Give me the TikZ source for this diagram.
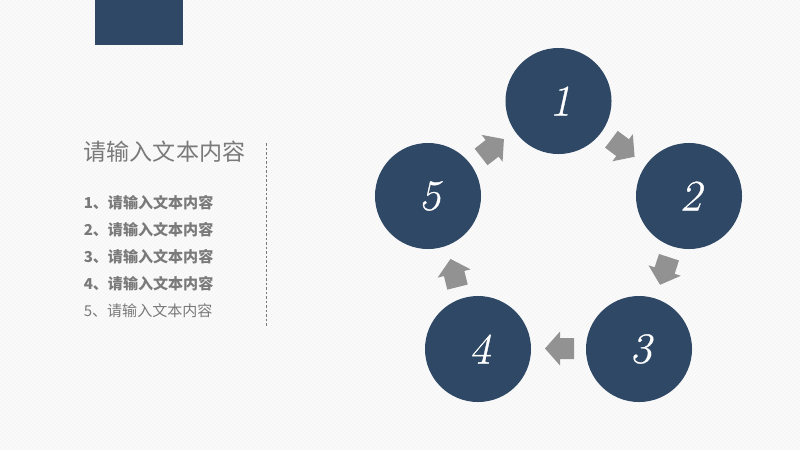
\documentclass[tikz,border=0pt]{standalone}
\usepackage{fontspec}
\setmainfont{Latin Modern Roman}
\newfontfamily\cjk{Noto Sans CJK SC}
\newfontfamily\numfont[FakeSlant=0.22,FakeBold=0.8]{Latin Modern Roman}
\definecolor{navy}{HTML}{2E4866}
\definecolor{pagebg}{HTML}{FAFAFA}
\definecolor{hatchgray}{HTML}{F4F4F4}
\definecolor{txtgray}{HTML}{7A7A7A}
\definecolor{arrowgray}{HTML}{929292}
\begin{document}
\begin{tikzpicture}[x=0.025cm,y=-0.025cm]
	\newcommand{\listx}{83.5}
	\newcommand{\circdiam}{2.65cm} % diameter of the circles

	% set the styles
	\tikzset{
		stage/.style={
			circle,
			fill=navy,
			text=white,
			inner sep=0pt,
			minimum size=\circdiam,
			font=\fontsize{31}{31}\selectfont\numfont
			},
		listitem/.style={
			anchor=west,
			inner sep=0pt,
			text=txtgray,
			font=\fontsize{10.7}{12}\selectfont\cjk
			},
		blockarrow/.style={
			fill=arrowgray
			}
	}

	% background
	\fill[pagebg] (0,0) rectangle (800,450);
	\useasboundingbox (0,0) rectangle (800,450);
	\begin{scope}
		\clip (0,0) rectangle (800,450);
		\foreach \d in {0,4,...,1252}
			\draw[hatchgray, line width=0.3pt] (\d,0) -- (\d-450,450);
	\end{scope}

	% top block
	\fill[navy] (94.5,0) rectangle (182.5,44.5);

	% text column
	\node[listitem, font=\fontsize{16.4}{18}\selectfont\cjk] (title) at (\listx,151.5) {请输入文本内容};
	\foreach \n/\y in {1/202.5,2/230,3/257,4/284}
		\node[listitem] (item\n) at (\listx,\y) {\textbf{\n、请输入文本内容}};
	\node[listitem] (item5) at (\listx,311) {5、请输入文本内容};

	% divider
	\draw[txtgray, line width=0.4pt, dash pattern=on 2pt off 1.2pt] (266,143) -- (266,327);

	% circles
	\foreach \n/\x/\y in {1/558.5/101,2/689/196,3/639/349,4/478/349,5/428/196}
		\node[stage] (stage\n) at (\x,\y) {\kern2.6pt\raisebox{-1pt}{\n}};

	% arrows between circles
	\foreach \x/\y/\a in {623/148/-37,664.5/271/-108,559.5/348.5/180,454/273/104,492.5/148/38}
		\fill[blockarrow, shift={(\x,\y)}, rotate=\a]
			(-14.5,-10.5) -- (-0.5,-10.5) -- (-0.5,-17) -- (14.5,0) -- (-0.5,17) -- (-0.5,10.5) -- (-14.5,10.5) -- cycle;
\end{tikzpicture}
\end{document}
